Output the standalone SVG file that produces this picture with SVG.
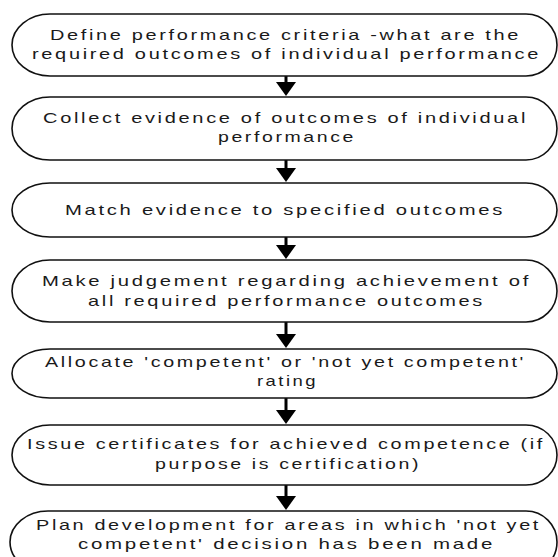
<svg xmlns="http://www.w3.org/2000/svg" width="558" height="557" viewBox="0 0 558 557">
<style>
.box{fill:#fff;stroke:#111;stroke-width:1.6}
.t{font-family:"Liberation Sans",Arial,sans-serif;font-size:15px;letter-spacing:2px;fill:#1a1a1a}
.sh{stroke:#000;stroke-width:3}
.ah{fill:#000}
</style>
<rect width="558" height="557" fill="#fff"/>
<g id="connectors">
<g><line class="sh" x1="286" y1="76" x2="286" y2="83"/><polygon class="ah" points="276,82 296,82 286,96"/></g>
<g><line class="sh" x1="286" y1="160" x2="286" y2="169"/><polygon class="ah" points="276,168 296,168 286,182"/></g>
<g><line class="sh" x1="286" y1="237" x2="286" y2="246"/><polygon class="ah" points="276,245 296,245 286,259"/></g>
<g><line class="sh" x1="286" y1="322" x2="286" y2="335"/><polygon class="ah" points="276,334 296,334 286,348"/></g>
<g><line class="sh" x1="286" y1="398" x2="286" y2="411"/><polygon class="ah" points="276,410 296,410 286,424"/></g>
<g><line class="sh" x1="286" y1="485" x2="286" y2="497"/><polygon class="ah" points="276,496 296,496 286,510"/></g>
</g>
<g id="n1">
<path class="box" d="M50,14 L526,14 A31,31 0 0 1 526,76 L50,76 A38,31 0 0 1 50,14 Z"/>
<text class="t" x="50" y="40" textLength="471" lengthAdjust="spacingAndGlyphs">Define performance criteria -what are the</text>
<text class="t" x="32" y="59" textLength="509" lengthAdjust="spacingAndGlyphs">required outcomes of individual performance</text>
</g>
<g id="n2">
<path class="box" d="M50,97 L526,97 A31,31.5 0 0 1 526,160 L50,160 A38,31.5 0 0 1 50,97 Z"/>
<text class="t" x="43" y="123" textLength="485" lengthAdjust="spacingAndGlyphs">Collect evidence of outcomes of individual</text>
<text class="t" x="218" y="142" textLength="138" lengthAdjust="spacingAndGlyphs">performance</text>
</g>
<g id="n3">
<path class="box" d="M50,183 L526,183 A31,27 0 0 1 526,237 L50,237 A38,27 0 0 1 50,183 Z"/>
<text class="t" x="65" y="215" textLength="440" lengthAdjust="spacingAndGlyphs">Match evidence to specified outcomes</text>
</g>
<g id="n4">
<path class="box" d="M50,260 L526,260 A31,31 0 0 1 526,322 L50,322 A38,31 0 0 1 50,260 Z"/>
<text class="t" x="42" y="286" textLength="489" lengthAdjust="spacingAndGlyphs">Make judgement regarding achievement of</text>
<text class="t" x="88" y="306" textLength="397" lengthAdjust="spacingAndGlyphs">all required performance outcomes</text>
</g>
<g id="n5">
<path class="box" d="M50,349 L526,349 A31,24.5 0 0 1 526,398 L50,398 A38,24.5 0 0 1 50,349 Z"/>
<text class="t" x="45" y="367" textLength="481" lengthAdjust="spacingAndGlyphs">Allocate 'competent' or 'not yet competent'</text>
<text class="t" x="257" y="386" textLength="61" lengthAdjust="spacingAndGlyphs">rating</text>
</g>
<g id="n6">
<path class="box" d="M50,425 L526,425 A31,30 0 0 1 526,485 L50,485 A38,30 0 0 1 50,425 Z"/>
<text class="t" x="27" y="449" textLength="518" lengthAdjust="spacingAndGlyphs">Issue certificates for achieved competence (if</text>
<text class="t" x="155" y="469" textLength="266" lengthAdjust="spacingAndGlyphs">purpose is certification)</text>
</g>
<g id="n7">
<path class="box" d="M48,511 L526,511 A31,31 0 0 1 526,573 L48,573 A38,31 0 0 1 48,511 Z"/>
<text class="t" x="36" y="530" textLength="505" lengthAdjust="spacingAndGlyphs">Plan development for areas in which 'not yet</text>
<text class="t" x="78" y="549" textLength="417" lengthAdjust="spacingAndGlyphs">competent' decision has been made</text>
</g>
</svg>
